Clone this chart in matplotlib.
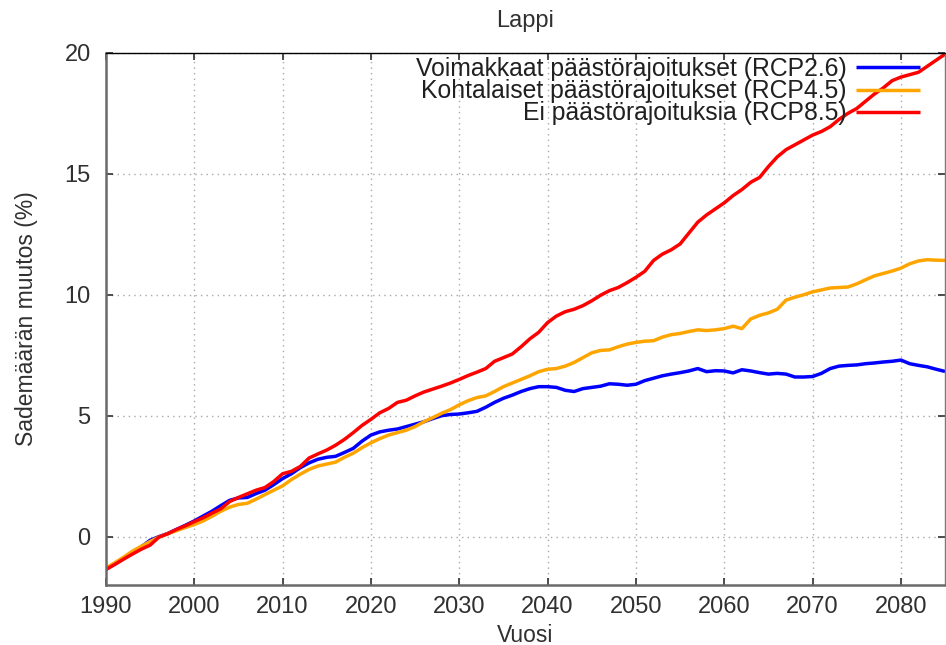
import numpy as np
import matplotlib
matplotlib.use("Agg")
import matplotlib.pyplot as plt

plt.rcParams['font.family'] = ['Liberation Sans', 'DejaVu Sans']

years = np.arange(1990, 2086)

rcp26 = [-1.35, -1.12, -0.90, -0.68, -0.42, -0.15, 0.00, 0.13, 0.30, 0.47,
         0.65, 0.85, 1.05, 1.28, 1.50, 1.60, 1.62, 1.78, 1.92, 2.15,
         2.40, 2.60, 2.85, 3.05, 3.20, 3.28, 3.32, 3.48, 3.65, 3.95,
         4.20, 4.33, 4.40, 4.45, 4.55, 4.65, 4.75, 4.88, 5.00, 5.05,
         5.07, 5.12, 5.18, 5.35, 5.55, 5.72, 5.85, 6.00, 6.12, 6.20,
         6.20, 6.17, 6.05, 6.00, 6.12, 6.17, 6.22, 6.32, 6.30, 6.26,
         6.30, 6.45, 6.55, 6.65, 6.72, 6.78, 6.85, 6.95, 6.82, 6.86,
         6.85, 6.77, 6.90, 6.85, 6.78, 6.72, 6.75, 6.72, 6.60, 6.60,
         6.62, 6.75, 6.95, 7.05, 7.08, 7.10, 7.15, 7.18, 7.22, 7.25,
         7.30, 7.15, 7.08, 7.02, 6.92, 6.83]

rcp45 = [-1.30, -1.08, -0.85, -0.60, -0.40, -0.20, -0.02, 0.12, 0.25, 0.38,
         0.50, 0.65, 0.84, 1.05, 1.22, 1.33, 1.38, 1.55, 1.74, 1.92,
         2.10, 2.36, 2.58, 2.78, 2.92, 3.00, 3.08, 3.28, 3.45, 3.68,
         3.88, 4.05, 4.20, 4.30, 4.40, 4.55, 4.75, 4.92, 5.10, 5.25,
         5.45, 5.62, 5.75, 5.82, 6.00, 6.20, 6.35, 6.50, 6.65, 6.82,
         6.92, 6.95, 7.05, 7.20, 7.40, 7.60, 7.70, 7.72, 7.85, 7.96,
         8.03, 8.08, 8.10, 8.25, 8.35, 8.40, 8.48, 8.55, 8.52, 8.55,
         8.60, 8.70, 8.60, 9.00, 9.15, 9.25, 9.40, 9.78, 9.90, 10.00,
         10.12, 10.20, 10.28, 10.30, 10.32, 10.45, 10.62, 10.78, 10.88, 10.98,
         11.10, 11.28, 11.40, 11.45, 11.43, 11.42]

rcp85 = [-1.36, -1.15, -0.93, -0.72, -0.52, -0.35, -0.02, 0.12, 0.30, 0.45,
         0.62, 0.78, 0.97, 1.15, 1.45, 1.62, 1.77, 1.92, 2.03, 2.28,
         2.60, 2.70, 2.90, 3.25, 3.42, 3.58, 3.78, 4.02, 4.30, 4.60,
         4.85, 5.12, 5.30, 5.55, 5.64, 5.82, 5.98, 6.10, 6.22, 6.35,
         6.50, 6.66, 6.80, 6.95, 7.25, 7.40, 7.55, 7.85, 8.18, 8.45,
         8.85, 9.12, 9.30, 9.40, 9.55, 9.75, 9.98, 10.17, 10.30, 10.50,
         10.72, 10.97, 11.42, 11.68, 11.86, 12.10, 12.55, 13.00, 13.30, 13.55,
         13.80, 14.10, 14.35, 14.65, 14.85, 15.30, 15.70, 16.00, 16.20, 16.40,
         16.60, 16.75, 16.95, 17.25, 17.50, 17.70, 18.00, 18.30, 18.55, 18.85,
         19.00, 19.10, 19.20, 19.45, 19.70, 19.95]

labels = ["Voimakkaat päästörajoitukset (RCP2.6)",
          "Kohtalaiset päästörajoitukset (RCP4.5)",
          "Ei päästörajoituksia (RCP8.5)"]
colors = ["#0000ff", "#ffa500", "#ff0000"]

xticks = list(range(1990, 2081, 10))
yticks = [0, 5, 10, 15, 20]

fig = plt.figure(figsize=(9.46, 6.45), dpi=100)
ax = fig.add_axes([0.112, 0.093, 0.887, 0.825])

for series, lab, col in zip([rcp26, rcp45, rcp85], labels, colors):
    ax.plot(years, series, color=col, lw=2.5, label=lab, solid_capstyle='butt')

ax.set_xlim(1990, 2085)
ax.set_ylim(-2, 20)
ax.set_xticks(xticks)
ax.set_yticks(yticks)
ax.grid(True, color="#a8a8a8", linestyle=(0, (1, 3)), lw=1.0)
ax.set_axisbelow(True)

ax.tick_params(direction='in', top=True, right=True, length=5, width=1.2,
               labelsize=17, colors='#303030')
ax.tick_params(axis='x', pad=8)
ax.tick_params(axis='y', pad=11)
for side in ['left', 'bottom']:
    ax.spines[side].set_color('#6a6a6a')
    ax.spines[side].set_linewidth(1.8)
ax.spines['top'].set_color('#000000')
ax.spines['top'].set_linewidth(1.0)
ax.spines['right'].set_color('#7a7a7a')
ax.spines['right'].set_linewidth(1.0)

ax.set_title("Lappi", fontsize=17, color='#303030', pad=19)
ax.set_xlabel("Vuosi", fontsize=16.5, color='#303030', labelpad=4)
ax.set_ylabel("Sademäärän muutos (%)", fontsize=16.5, color='#303030', labelpad=19)

leg = ax.legend(loc='upper right', bbox_to_anchor=(0.970, 0.992),
                markerfirst=False, frameon=False,
                fontsize=17.8, handlelength=2.6, handletextpad=0.37,
                labelspacing=-0.08, borderaxespad=0.0, borderpad=0.0)
for t in leg.get_texts():
    t.set_color('#202020')

fig.savefig("out.png", dpi=100)
